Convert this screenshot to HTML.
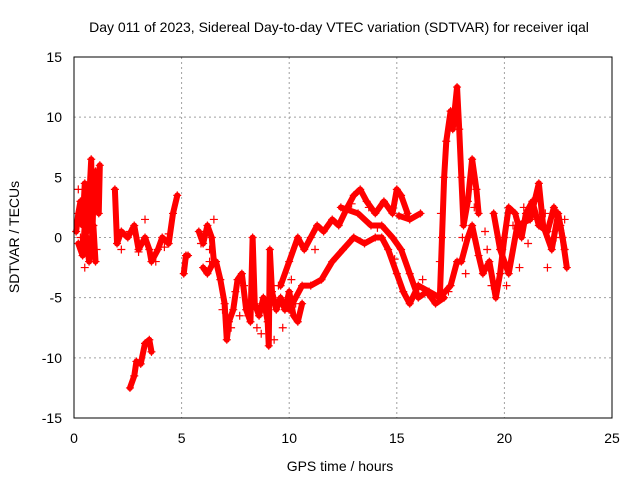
<!DOCTYPE html>
<html><head><meta charset="utf-8"><style>
body{margin:0;background:#fff}
svg{display:block;font-family:"Liberation Sans",sans-serif}
</style></head><body>
<svg id="chart" width="640" height="480" viewBox="0 0 640 480" xmlns="http://www.w3.org/2000/svg">
<text x="339" y="32" font-size="14" text-anchor="middle">Day 011 of 2023, Sidereal Day-to-day VTEC variation (SDTVAR) for receiver iqal</text>
<text x="340" y="471" font-size="14" text-anchor="middle">GPS time / hours</text>
<text x="19" y="237" font-size="14" text-anchor="middle" transform="rotate(-90 19 237)">SDTVAR / TECUs</text>
<g id="grid"></g>
<g id="ticks"></g>
<g id="series"></g>
<rect x="74" y="57" width="538" height="361" fill="none" stroke="#000" stroke-width="1"/>
</svg>
<script>
const xTicks=[0,5,10,15,20,25];
const yTicks=[-15,-10,-5,0,5,10,15];
// traced segments of [hour, TECU]
const segA=[[0.1,0.5],[0.2,2],[0.3,3],[0.4,1],[0.5,4.5],[0.55,1],[0.6,0.5],[0.7,3],[0.8,6.5],[0.85,0],[0.9,3],[1.0,5.5],[1.1,4],[1.2,6],[1.15,2]];
const segA2=[[0.2,-0.5],[0.4,-1.5],[0.5,1],[0.7,-2],[0.9,1],[1.0,-2]];
const segB=[[1.9,4],[2.0,-0.5],[2.2,0.5],[2.5,0],[2.8,1],[3.0,-1],[3.3,0],[3.5,-1],[3.6,-2],[3.9,-1],[4.1,0],[4.4,-0.5],[4.6,2],[4.8,3.5]];
const segLow=[[2.6,-12.5],[2.8,-11.5],[2.9,-10.3],[3.1,-10.5],[3.3,-8.8],[3.5,-8.5],[3.6,-9.5]];
const segC=[[5.1,-3],[5.2,-1.5],[5.3,-1.5]];
const segD=[[5.8,0.5],[6.0,-0.5],[6.2,1],[6.4,0],[6.5,-2],[6.2,-3],[6.0,-2.5]];
const segE=[[6.6,-2],[6.8,-3.5],[7.0,-5.5],[7.1,-8.5],[7.2,-7],[7.4,-6],[7.6,-3.5],[7.8,-3],[8.0,-6],[8.2,-7],[8.3,0],[8.4,-5.5],[8.6,-6.5],[8.8,-5],[9.0,-7],[9.05,-9],[9.1,-1],[9.2,-4.5],[9.4,-6],[9.6,-5],[9.8,-6],[10.0,-4.5],[10.2,-6.5],[10.4,-7],[10.6,-5.5]];
const segUp=[[9.6,-4],[10,-2],[10.4,0],[10.7,-1],[11,0],[11.3,1],[11.6,0.5],[12,1.5],[12.3,1],[12.7,2.5],[13,3.5],[13.3,4],[13.6,3],[14,2],[14.4,3],[14.8,2],[15,4],[15.2,3.5],[15.5,2]];
const segMid=[[12.4,2.5],[13.2,2],[13.8,1],[14.3,1],[14.8,0],[15.2,-1],[15.6,-3],[16,-5],[16.4,-4.5],[16.8,-5.5],[17.2,-5]];
const segLowC=[[10,-6],[10.6,-4],[11,-4],[11.5,-3.5],[12,-2],[12.5,-1],[13,0],[13.5,-0.5],[14,0],[14.3,0],[14.6,-1],[15,-3],[15.3,-4.5],[15.6,-5.5],[16,-4],[16.5,-4.5],[17,-5],[17.5,-4],[17.8,-2],[18,-2],[18.3,0],[18.5,1],[18.8,-1.5],[19,-3],[19.3,-2],[19.6,-5],[19.8,-3],[20,0],[20.2,2.5],[20.5,2],[20.8,0],[21,2],[21.3,3],[21.6,1],[22,0.5],[22.3,2.5],[22.6,1],[22.8,-1]];
const segBlob=[[15.1,1.8],[15.6,1.5],[16.1,2]];
const segSpike=[[17,-5],[17.1,0],[17.2,5],[17.3,8],[17.5,10.5],[17.6,9],[17.8,12.5],[17.9,9],[18,5],[18.1,1],[18.3,3],[18.5,6.5],[18.7,4],[18.8,2]];
const segTail=[[19.5,2],[19.8,-1],[20.2,-3],[20.6,1],[21.2,1.5],[21.6,4.5],[21.8,1],[22.2,-1],[22.5,2],[22.7,0],[22.9,-2.5]];
const segments=[segA,segA2,segB,segLow,segC,segD,segE,segUp,segMid,segLowC,segBlob,segSpike,segTail];
// additional scattered readings (marks only)
const scatterT=[0.3,0.45,0.6,0.75,0.95,1.1,0.2,0.5,0.8,1.05,2.2,2.6,3.0,3.3,3.8,4.2,4.4,5.9,6.1,6.3,6.5,6.3,6.9,7.3,7.5,7.7,8.1,8.5,8.9,9.3,9.5,9.7,10.1,10.3,8.7,7.9,11.2,12.9,13.7,14.1,14.9,16.2,16.6,17.4,18.2,18.6,19.1,19.4,19.9,20.4,20.9,21.1,21.4,21.9,22.4,22.8,17.0,17.05,18.05,19.2,20.7,20.1,22.0];
const scatterV=[0,2.5,-0.5,1.5,2,4.5,4,-2.5,-1.5,-1,-1,0.5,-1.2,1.5,-2,-0.8,0.3,-0.5,0.5,-1,1.5,-2,-6,-7.5,-4.5,-6.5,-6.5,-7.5,-6,-8.5,-4,-7.5,-3.5,-5.5,-8,-4,-1,2.8,2.5,0.8,-1.8,-3.5,-5,-4.5,-3,2.5,0.5,-4,-1,1,2.5,-0.5,3,2,0,1.5,-2,2,0,-1,-2.5,-4,-2.5];
const X=t=>74+t/25*538, Y=v=>237.5-v/15*180.5;
const NS="http://www.w3.org/2000/svg";
const grid=document.getElementById('grid'),ticks=document.getElementById('ticks'),ser=document.getElementById('series');
function mk(tag,attrs,parent){const e=document.createElementNS(NS,tag);for(const k in attrs)e.setAttribute(k,attrs[k]);parent.appendChild(e);return e;}
function mark(t,v){
 const m=mk('path',{d:`M${X(t)-4},${Y(v)}h8M${X(t)},${Y(v)-4}v8`,stroke:'#f00','stroke-width':1.2},ser);
 
 
}
xTicks.forEach(t=>{
 if(t>0&&t<25){const g=mk('line',{x1:X(t),x2:X(t),y1:57,y2:418,stroke:'#a0a0a0','stroke-dasharray':'2,3'},grid);
 
 }
 const l=mk('text',{x:X(t),y:443,'font-size':14,'text-anchor':'middle'},ticks);l.textContent=t;
 
 
});
yTicks.forEach(v=>{
 if(v>-15&&v<15){const g=mk('line',{x1:74,x2:612,y1:Y(v),y2:Y(v),stroke:'#a0a0a0','stroke-dasharray':'2,3'},grid);
 
 }
 const l=mk('text',{x:62,y:Y(v)+5,'font-size':14,'text-anchor':'end'},ticks);l.textContent=v;
 
 
});
segments.forEach(s=>{
 const p=mk('polyline',{points:s.map(d=>X(d[0])+','+Y(d[1])).join(' '),fill:'none',stroke:'#f00','stroke-width':6,'stroke-linejoin':'round','stroke-linecap':'round'},ser);
 
 
 s.forEach(d=>mark(d[0],d[1]));
});
scatterT.forEach((t,i)=>mark(t,scatterV[i]));
</script>
</body></html>
